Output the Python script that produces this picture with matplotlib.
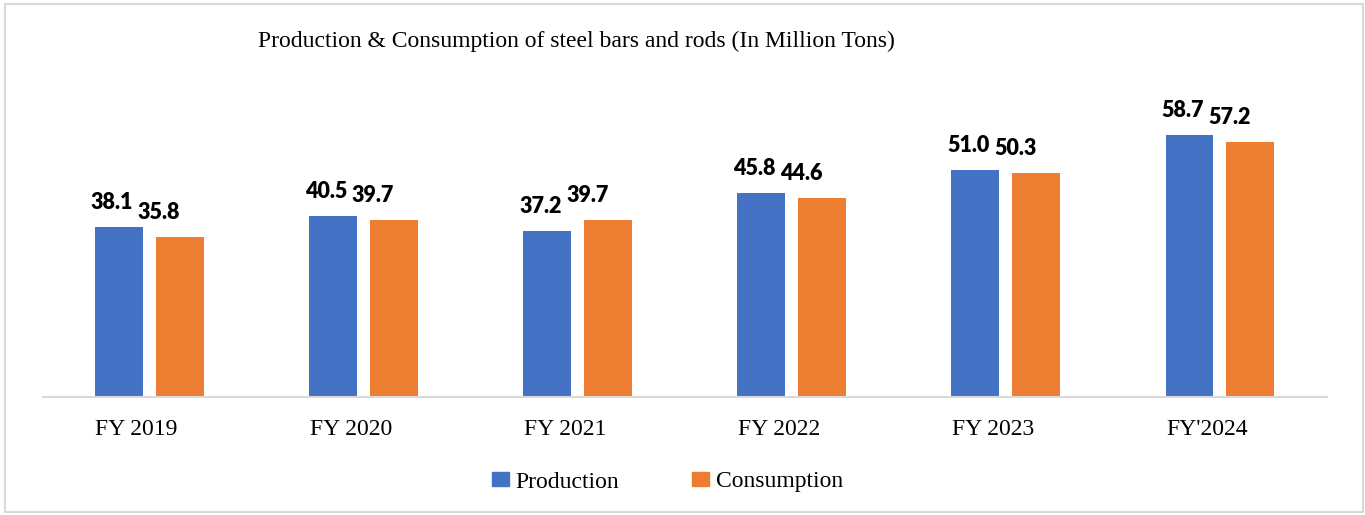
import matplotlib
matplotlib.use('Agg')
import matplotlib.pyplot as plt
import numpy as np
from matplotlib.patches import Rectangle, Patch
from matplotlib.transforms import ScaledTranslation

# data
years = ["FY 2019", "FY 2020", "FY 2021", "FY 2022", "FY 2023", "FY'2024"]
production = [38.1, 40.5, 37.2, 45.8, 51.0, 58.7]
consumption = [35.8, 39.7, 39.7, 44.6, 50.3, 57.2]

BLUE = '#4472C4'
ORANGE = '#ED7D31'
GRID = '#D9D9D9'
SERIF = 'Liberation Serif'

W, H, DPI = 1365, 515, 100
fig = plt.figure(figsize=(W / DPI, H / DPI), dpi=DPI)

# axes box in pixels: baseline at y=397, 4.46 px per ton
left, right, base = 42.5, 1327, 397
ymax = 70
ax_h = ymax * 4.46
ax = fig.add_axes([left / W, (H - base) / H, (right - left) / W, ax_h / H])

x = np.arange(len(years))
bw = 0.224
off = 0.1423
ax.bar(x - off, production, bw, color=BLUE, label='Production')
ax.bar(x + off, consumption, bw, color=ORANGE, label='Consumption')

ax.set_xlim(-0.5, len(years) - 0.5)
ax.set_ylim(0, ymax)
for s in ['top', 'right', 'left']:
    ax.spines[s].set_visible(False)
ax.spines['bottom'].set_color(GRID)
ax.spines['bottom'].set_linewidth(1.5)
ax.set_yticks([])
ax.set_xticks(x)
ax.set_xticklabels(years, fontfamily=SERIF, fontsize=17)
ax.tick_params(axis='x', length=0, pad=16)
shift = ScaledTranslation(-13 / DPI, 0, fig.dpi_scale_trans)
for lbl in ax.get_xticklabels():
    lbl.set_transform(lbl.get_transform() + shift)

# value labels above the bars
lab_kw = dict(textcoords='offset pixels', ha='center', va='baseline',
              fontfamily='Lato', fontweight='heavy', fontsize=15.5)
for xi, v in zip(x, production):
    ax.annotate(f"{v:.1f}", xy=(xi - off, v), xytext=(-7, 18), **lab_kw)
for xi, v in zip(x, consumption):
    ax.annotate(f"{v:.1f}", xy=(xi + off, v), xytext=(-21, 18), **lab_kw)

fig.text(258 / W, 1 - 46.7 / H, "Production & Consumption of steel bars and rods (In Million Tons)",
         ha='left', va='baseline', fontfamily=SERIF, fontsize=17)

handles = [Patch(color=BLUE, label='Production'), Patch(color=ORANGE, label='Consumption')]
fig.legend(handles=handles, loc='center', bbox_to_anchor=(667.5 / W, 1 - 482 / H), ncol=2,
           frameon=False, prop={'family': SERIF, 'size': 17},
           handlelength=0.72, handleheight=0.55, handletextpad=0.28, columnspacing=3.1)

# light grey chart border
fig.patches.append(Rectangle((5 / W, 3 / H), 1358 / W, 508 / H, transform=fig.transFigure,
                             fill=False, edgecolor=GRID, linewidth=1.5))

fig.savefig('out.png', dpi=DPI)
